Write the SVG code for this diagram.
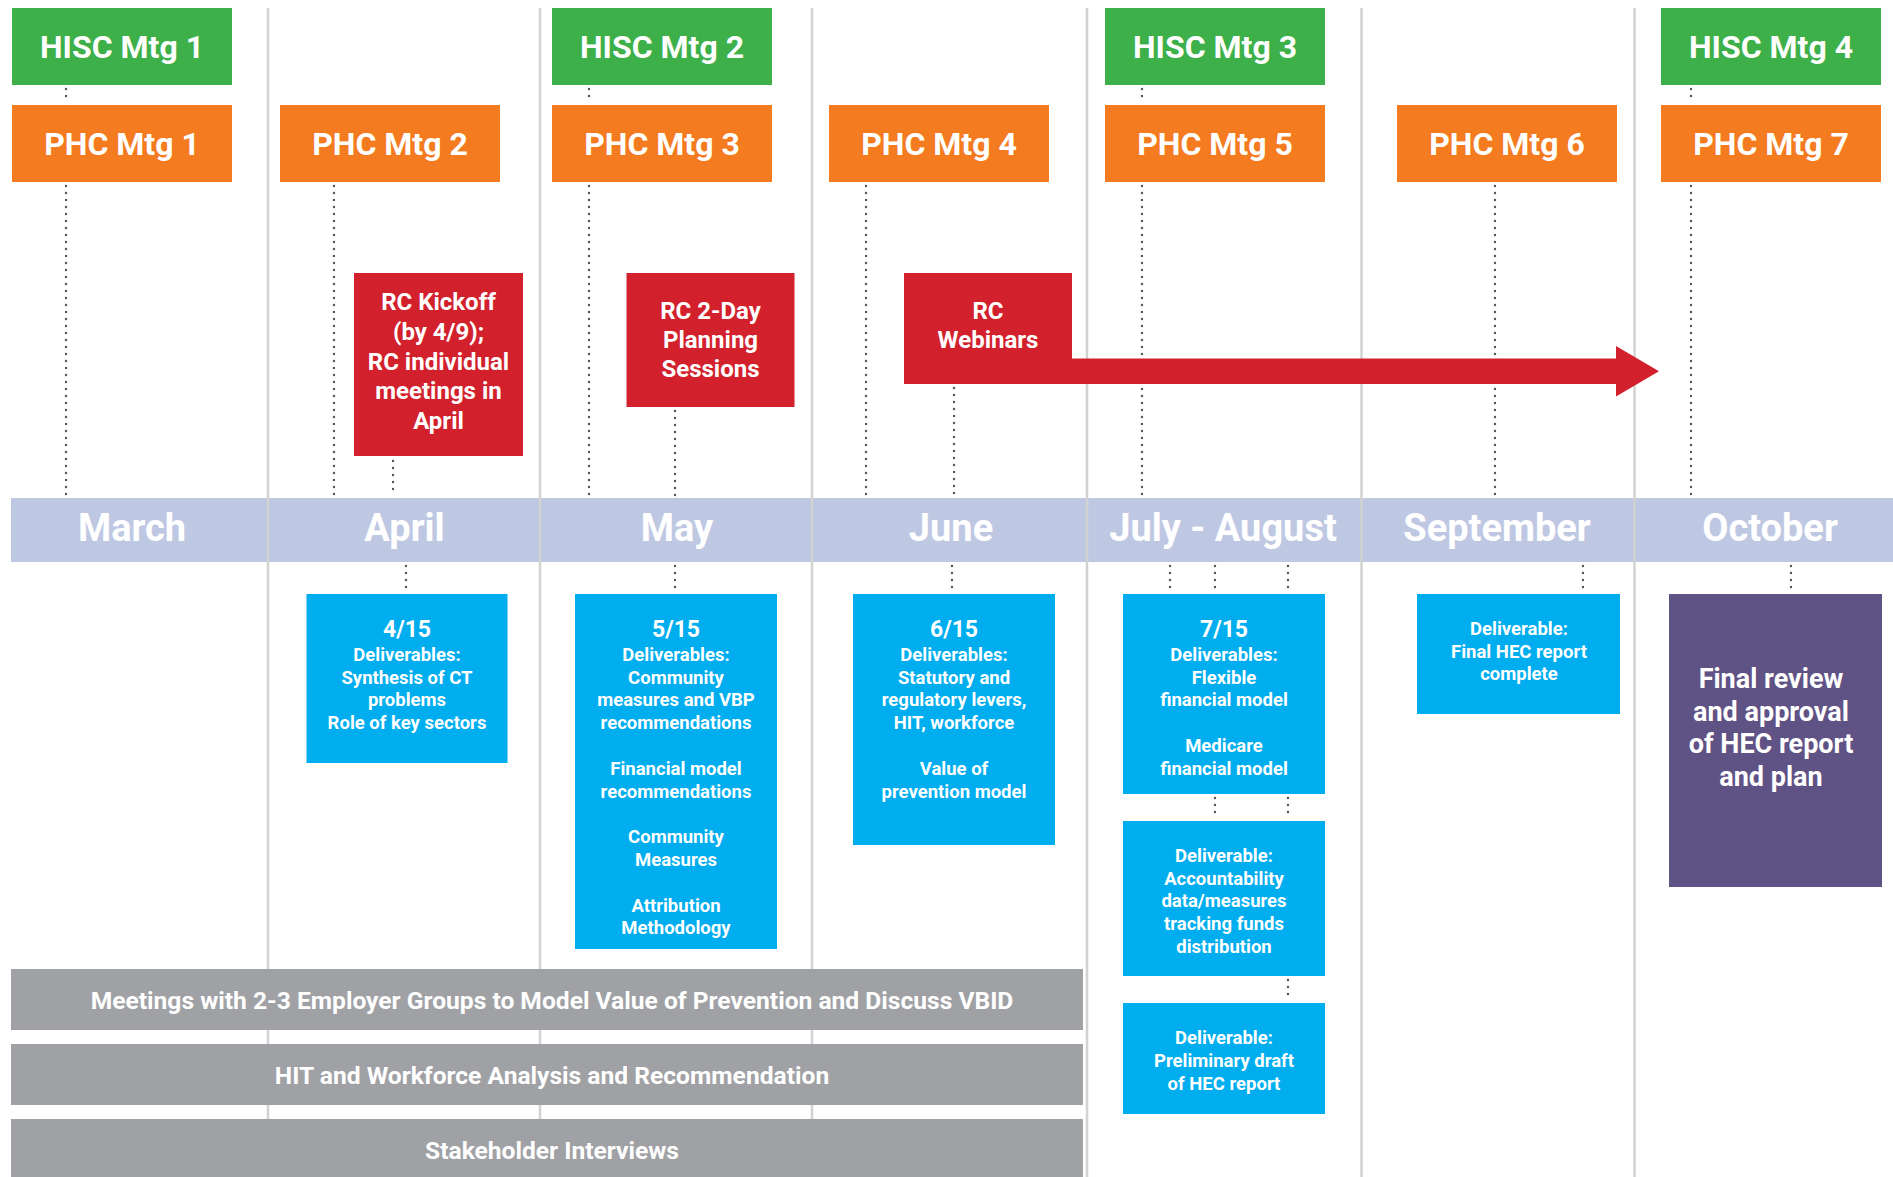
<svg xmlns="http://www.w3.org/2000/svg" width="1893" height="1177" viewBox="0 0 1893 1177">
<style>
text{font-family:Roboto,"Liberation Sans",Arial,sans-serif;font-weight:700;fill:#ffffff;text-anchor:middle}
.grid{stroke:#d2d2d2;stroke-width:2.5}
.dot{stroke:#555;stroke-width:2.4;stroke-linecap:round;stroke-dasharray:0 7;fill:none}
.hisc{fill:#3db04a}
.phc{fill:#f47b20}
.rc{fill:#d2212c}
.blue{fill:#00adee}
.purple{fill:#5f5284}
.gbar{fill:#a0a1a5}
.mbar{fill:#bfc8e3}
.t32{font-size:32px}
.t38{font-size:38px}
.t24{font-size:24px}
.t23{font-size:23px}
.t19{font-size:18.5px}
.t27{font-size:27px}
.tg{font-size:24.6px}
</style>

<g id="month-bar">
<rect class="mbar" x="11" y="498" width="1882" height="64"/>
</g>

<g id="gridlines">
<line class="grid" x1="268" y1="8" x2="268" y2="1177"/>
<line class="grid" x1="540" y1="8" x2="540" y2="1177"/>
<line class="grid" x1="812" y1="8" x2="812" y2="1177"/>
<line class="grid" x1="1087" y1="8" x2="1087" y2="1177"/>
<line class="grid" x1="1361.5" y1="8" x2="1361.5" y2="1177"/>
<line class="grid" x1="1634.5" y1="8" x2="1634.5" y2="1177"/>
</g>

<g id="months">
<text class="t38" x="132" y="541">March</text>
<text class="t38" x="404.5" y="541">April</text>
<text class="t38" x="677" y="541">May</text>
<text class="t38" x="951" y="541">June</text>
<text class="t38" x="1223" y="541">July - August</text>
<text class="t38" x="1497" y="541">September</text>
<text class="t38" x="1770" y="541">October</text>
</g>

<g id="connectors">
<line class="dot" x1="66" y1="89" x2="66" y2="103"/>
<line class="dot" x1="66" y1="186" x2="66" y2="496"/>
<line class="dot" x1="334" y1="186" x2="334" y2="496"/>
<line class="dot" x1="393" y1="461" x2="393" y2="496"/>
<line class="dot" x1="589" y1="89" x2="589" y2="103"/>
<line class="dot" x1="589" y1="186" x2="589" y2="496"/>
<line class="dot" x1="675" y1="411" x2="675" y2="496"/>
<line class="dot" x1="866" y1="186" x2="866" y2="496"/>
<line class="dot" x1="954" y1="388" x2="954" y2="496"/>
<line class="dot" x1="1142" y1="89" x2="1142" y2="103"/>
<line class="dot" x1="1142" y1="186" x2="1142" y2="496"/>
<line class="dot" x1="1495" y1="186" x2="1495" y2="496"/>
<line class="dot" x1="1691" y1="89" x2="1691" y2="103"/>
<line class="dot" x1="1691" y1="186" x2="1691" y2="496"/>
<line class="dot" x1="406" y1="566" x2="406" y2="592"/>
<line class="dot" x1="675" y1="566" x2="675" y2="592"/>
<line class="dot" x1="952" y1="566" x2="952" y2="592"/>
<line class="dot" x1="1170" y1="566" x2="1170" y2="592"/>
<line class="dot" x1="1215" y1="566" x2="1215" y2="592"/>
<line class="dot" x1="1288" y1="566" x2="1288" y2="592"/>
<line class="dot" x1="1215" y1="798" x2="1215" y2="819"/>
<line class="dot" x1="1288" y1="798" x2="1288" y2="819"/>
<line class="dot" x1="1288" y1="980" x2="1288" y2="1001"/>
<line class="dot" x1="1583" y1="566" x2="1583" y2="592"/>
<line class="dot" x1="1791" y1="566" x2="1791" y2="592"/>
<polygon id="webinar-arrow" class="rc" points="1068,358.5 1616,358.5 1616,346 1659,371.2 1616,396.5 1616,384 1068,384"/>
</g>

<g id="hisc1"><rect class="hisc" x="12" y="8" width="220" height="77"/><text class="t32" x="122" y="58">HISC Mtg 1</text></g>
<g id="hisc2"><rect class="hisc" x="552" y="8" width="220" height="77"/><text class="t32" x="662" y="58">HISC Mtg 2</text></g>
<g id="hisc3"><rect class="hisc" x="1105" y="8" width="220" height="77"/><text class="t32" x="1215" y="58">HISC Mtg 3</text></g>
<g id="hisc4"><rect class="hisc" x="1661" y="8" width="220" height="77"/><text class="t32" x="1771" y="58">HISC Mtg 4</text></g>

<g id="phc1"><rect class="phc" x="12" y="105" width="220" height="77"/><text class="t32" x="122" y="155">PHC Mtg 1</text></g>
<g id="phc2"><rect class="phc" x="280" y="105" width="220" height="77"/><text class="t32" x="390" y="155">PHC Mtg 2</text></g>
<g id="phc3"><rect class="phc" x="552" y="105" width="220" height="77"/><text class="t32" x="662" y="155">PHC Mtg 3</text></g>
<g id="phc4"><rect class="phc" x="829" y="105" width="220" height="77"/><text class="t32" x="939" y="155">PHC Mtg 4</text></g>
<g id="phc5"><rect class="phc" x="1105" y="105" width="220" height="77"/><text class="t32" x="1215" y="155">PHC Mtg 5</text></g>
<g id="phc6"><rect class="phc" x="1397" y="105" width="220" height="77"/><text class="t32" x="1507" y="155">PHC Mtg 6</text></g>
<g id="phc7"><rect class="phc" x="1661" y="105" width="220" height="77"/><text class="t32" x="1771" y="155">PHC Mtg 7</text></g>

<g id="rc-kickoff"><rect class="rc" x="354" y="273" width="169" height="183"/>
<text class="t24" x="438.5"><tspan x="438.5" y="310">RC Kickoff</tspan><tspan x="438.5" y="340">(by 4/9);</tspan><tspan x="438.5" y="369.5">RC individual</tspan><tspan x="438.5" y="399">meetings in</tspan><tspan x="438.5" y="428.5">April</tspan></text></g>

<g id="rc-planning"><rect class="rc" x="626.5" y="273" width="168" height="134"/>
<text class="t24" x="710.5"><tspan x="710.5" y="318.5">RC 2-Day</tspan><tspan x="710.5" y="347.5">Planning</tspan><tspan x="710.5" y="376.5">Sessions</tspan></text></g>

<g id="rc-webinars"><rect class="rc" x="904" y="273" width="168" height="111"/>
<text class="t24" x="988"><tspan x="988" y="318.5">RC</tspan><tspan x="988" y="347.5">Webinars</tspan></text></g>

<g id="del-0415"><rect class="blue" x="306.5" y="594" width="201" height="169"/>
<text class="t19" x="407"><tspan class="t23" x="407" y="637">4/15</tspan><tspan x="407" y="660.7">Deliverables:</tspan><tspan x="407" y="683.5">Synthesis of CT</tspan><tspan x="407" y="706.3">problems</tspan><tspan x="407" y="729.1">Role of key sectors</tspan></text></g>

<g id="del-0515"><rect class="blue" x="575" y="594" width="202" height="355"/>
<text class="t19" x="676"><tspan class="t23" x="676" y="637">5/15</tspan><tspan x="676" y="660.7">Deliverables:</tspan><tspan x="676" y="683.5">Community</tspan><tspan x="676" y="706.3">measures and VBP</tspan><tspan x="676" y="729.1">recommendations</tspan><tspan x="676" y="774.7">Financial model</tspan><tspan x="676" y="797.5">recommendations</tspan><tspan x="676" y="843.1">Community</tspan><tspan x="676" y="865.9">Measures</tspan><tspan x="676" y="911.5">Attribution</tspan><tspan x="676" y="934.3">Methodology</tspan></text></g>

<g id="del-0615"><rect class="blue" x="853" y="594" width="202" height="251"/>
<text class="t19" x="954"><tspan class="t23" x="954" y="637">6/15</tspan><tspan x="954" y="660.7">Deliverables:</tspan><tspan x="954" y="683.5">Statutory and</tspan><tspan x="954" y="706.3">regulatory levers,</tspan><tspan x="954" y="729.1">HIT, workforce</tspan><tspan x="954" y="774.7">Value of</tspan><tspan x="954" y="797.5">prevention model</tspan></text></g>

<g id="del-0715"><rect class="blue" x="1123" y="594" width="202" height="200"/>
<text class="t19" x="1224"><tspan class="t23" x="1224" y="637">7/15</tspan><tspan x="1224" y="660.7">Deliverables:</tspan><tspan x="1224" y="683.5">Flexible</tspan><tspan x="1224" y="706.3">financial model</tspan><tspan x="1224" y="751.9">Medicare</tspan><tspan x="1224" y="774.7">financial model</tspan></text></g>

<g id="del-accountability"><rect class="blue" x="1123" y="821" width="202" height="155"/>
<text class="t19" x="1224"><tspan x="1224" y="861.7">Deliverable:</tspan><tspan x="1224" y="884.5">Accountability</tspan><tspan x="1224" y="907.3">data/measures</tspan><tspan x="1224" y="930.1">tracking funds</tspan><tspan x="1224" y="952.9">distribution</tspan></text></g>

<g id="del-preliminary"><rect class="blue" x="1123" y="1003" width="202" height="111"/>
<text class="t19" x="1224"><tspan x="1224" y="1044">Deliverable:</tspan><tspan x="1224" y="1066.8">Preliminary draft</tspan><tspan x="1224" y="1089.6">of HEC report</tspan></text></g>

<g id="del-final"><rect class="blue" x="1417" y="594" width="203" height="120"/>
<text class="t19" x="1519"><tspan x="1519" y="634.8">Deliverable:</tspan><tspan x="1519" y="657.6">Final HEC report</tspan><tspan x="1519" y="680.4">complete</tspan></text></g>

<g id="final-review"><rect class="purple" x="1669" y="594" width="213" height="293"/>
<text class="t27" x="1771"><tspan x="1771" y="688">Final review</tspan><tspan x="1771" y="720.7">and approval</tspan><tspan x="1771" y="753.4">of HEC report</tspan><tspan x="1771" y="786.1">and plan</tspan></text></g>

<g id="bar-employer"><rect class="gbar" x="11" y="969" width="1072" height="61"/><text class="tg" x="552" y="1008.5">Meetings with 2-3 Employer Groups to Model Value of Prevention and Discuss VBID</text></g>
<g id="bar-hit"><rect class="gbar" x="11" y="1044" width="1072" height="61"/><text class="tg" x="552" y="1083.5">HIT and Workforce Analysis and Recommendation</text></g>
<g id="bar-stakeholder"><rect class="gbar" x="11" y="1119" width="1072" height="58"/><text class="tg" x="552" y="1158.5">Stakeholder Interviews</text></g>
</svg>
